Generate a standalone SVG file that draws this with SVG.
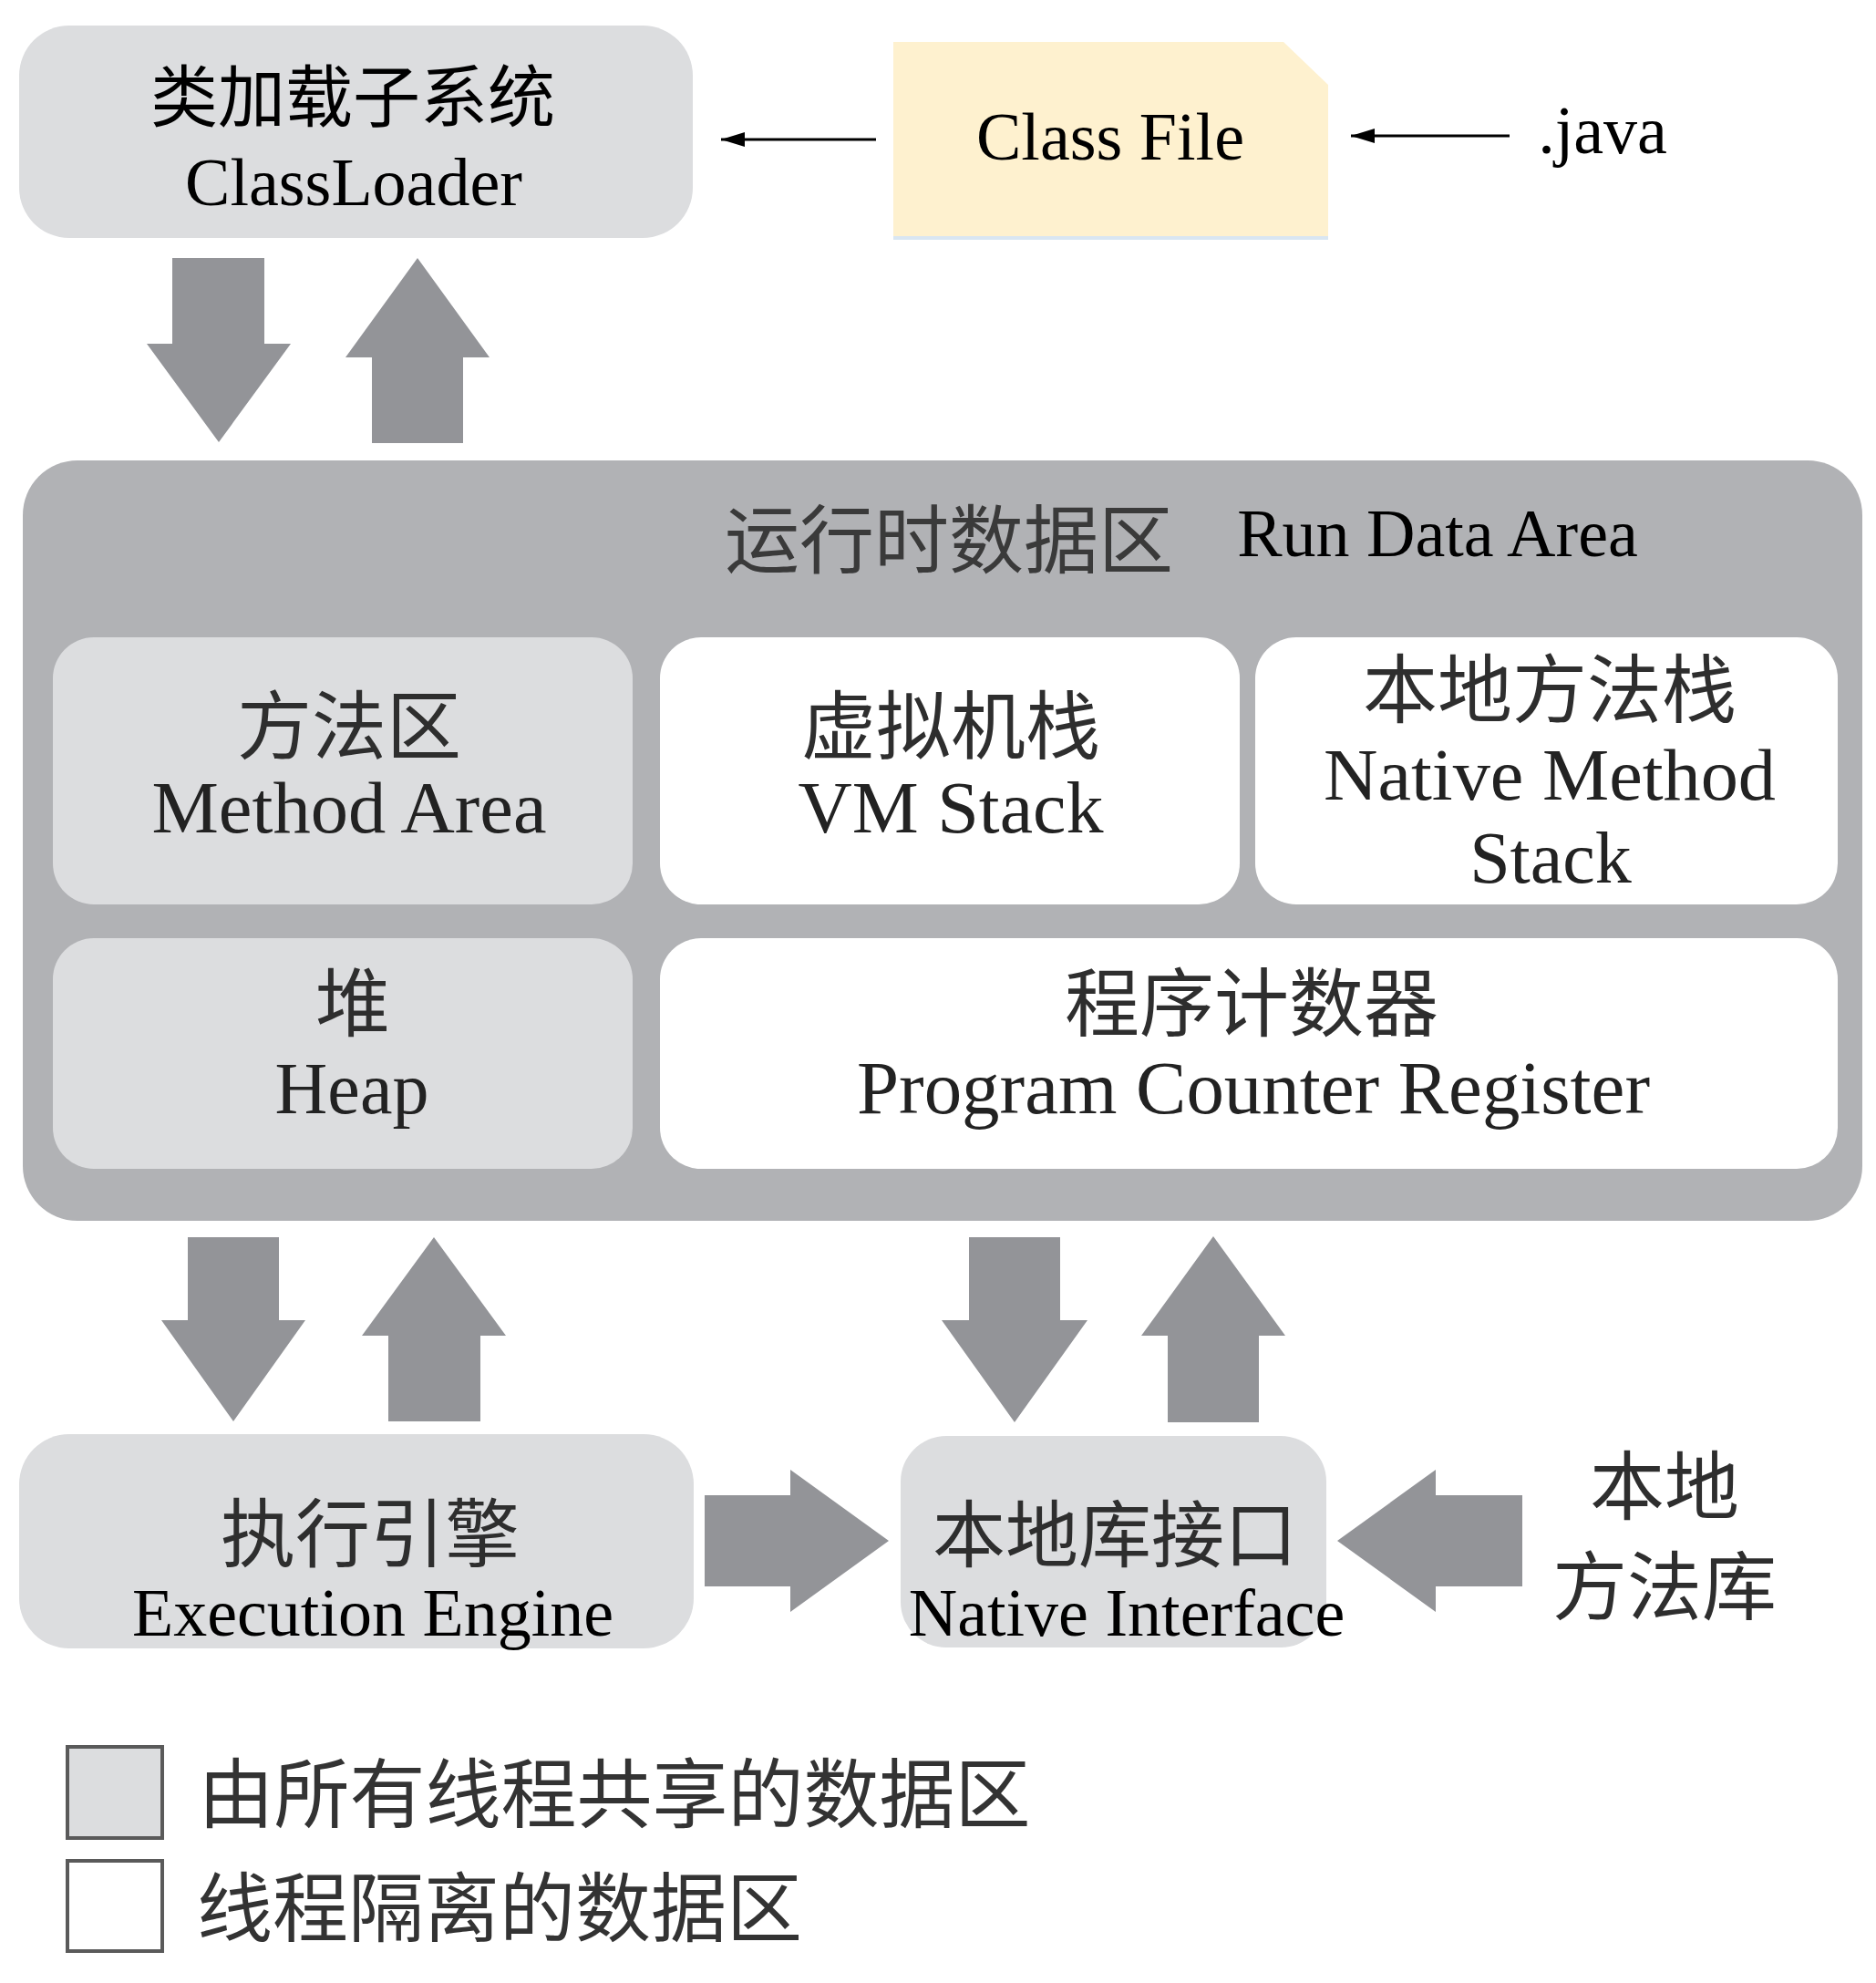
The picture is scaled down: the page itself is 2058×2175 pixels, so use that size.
<svg xmlns="http://www.w3.org/2000/svg" width="2058" height="2175" viewBox="0 0 2058 2175">
<style>
.shared{fill:#dcdddf}
.private{fill:#ffffff}
.area{fill:#b1b2b5}
.blk{fill:#939498}
.cn{font-family:"Noto Sans CJK SC","Noto Sans",sans-serif;fill:#2e2e2e;text-anchor:middle}
.en{font-family:"Liberation Serif","Times New Roman",serif;fill:#000;text-anchor:middle}
.en2{font-family:"Liberation Serif","Times New Roman",serif;fill:#222;text-anchor:middle}
.thin{stroke:#000;stroke-width:3;fill:none}
</style>
<defs>
<marker id="ah" viewBox="0 0 26 16" refX="26" refY="8" markerWidth="26" markerHeight="16" markerUnits="userSpaceOnUse" orient="auto">
<path d="M0,0 L26,8 L0,16 z" fill="#000"/>
</marker>
</defs>
<rect width="2058" height="2175" fill="#ffffff"/>

<g id="classloader">
<rect class="shared" x="21" y="28" width="739" height="233" rx="55"/>
<text class="cn" x="387" y="133" font-size="74" style="fill:#000">类加载子系统</text>
<text class="en" x="388" y="225" font-size="74">ClassLoader</text>
</g>

<g id="classfile">
<rect x="980" y="252" width="477" height="11" fill="#d9e6f2"/>
<path d="M980,46 L1408,46 L1457,93 L1457,259 L980,259 z" fill="#fef1cf"/>
<text class="en" x="1218" y="175" font-size="74">Class File</text>
</g>

<g id="java">
<text class="en" x="1758" y="168" font-size="74">.java</text>
</g>

<g id="runtime">
<rect class="area" x="25" y="505" width="2018" height="834" rx="60"/>
<text class="cn" x="1041" y="622" font-size="82" style="fill:#3a3a3a">运行时数据区</text>
<text class="en" x="1577" y="610" font-size="74">Run Data Area</text>
</g>

<g id="method-area">
<rect class="shared" x="58" y="699" width="636" height="293" rx="45"/>
<text class="cn" x="383" y="826" font-size="82">方法区</text>
<text class="en2" x="383" y="913" font-size="80" textLength="433" lengthAdjust="spacingAndGlyphs">Method Area</text>
</g>

<g id="vm-stack">
<rect class="private" x="724" y="699" width="636" height="293" rx="45"/>
<text class="cn" x="1043" y="826" font-size="82">虚拟机栈</text>
<text class="en2" x="1043" y="913" font-size="80" textLength="335" lengthAdjust="spacingAndGlyphs">VM Stack</text>
</g>

<g id="native-method-stack">
<rect class="private" x="1377" y="699" width="639" height="293" rx="45"/>
<text class="cn" x="1700" y="786" font-size="82">本地方法栈</text>
<text class="en2" x="1700" y="877" font-size="80" textLength="496" lengthAdjust="spacingAndGlyphs">Native Method</text>
<text class="en2" x="1701" y="968" font-size="80">Stack</text>
</g>

<g id="heap">
<rect class="shared" x="58" y="1029" width="636" height="253" rx="45"/>
<text class="cn" x="387" y="1130" font-size="82">堆</text>
<text class="en2" x="386" y="1221" font-size="80">Heap</text>
</g>

<g id="pc-register">
<rect class="private" x="724" y="1029" width="1292" height="253" rx="45"/>
<text class="cn" x="1373" y="1130" font-size="82">程序计数器</text>
<text class="en2" x="1375" y="1221" font-size="82" textLength="870" lengthAdjust="spacingAndGlyphs">Program Counter Register</text>
</g>

<g id="execution-engine">
<rect class="shared" x="21" y="1573" width="740" height="235" rx="55"/>
<text class="cn" x="406" y="1712" font-size="82">执行引擎</text>
<text class="en" x="409" y="1794" font-size="74">Execution Engine</text>
</g>

<g id="native-interface">
<rect class="shared" x="988" y="1575" width="467" height="232" rx="50"/>
<text class="cn" x="1223" y="1712" font-size="80">本地库接口</text>
<text class="en" x="1236" y="1794" font-size="74">Native Interface</text>
</g>

<g id="native-library">
<text class="cn" x="1826" y="1660" font-size="82">本地</text>
<text class="cn" x="1826" y="1770" font-size="82">方法库</text>
</g>

<g id="connectors">
<line class="thin" x1="961" y1="153" x2="791" y2="153" marker-end="url(#ah)"/>
<line class="thin" x1="1656" y1="149" x2="1482" y2="149" marker-end="url(#ah)"/>
<polygon class="blk" points="189,283 290,283 290,377 319,377 240,485 161,377 189,377"/>
<polygon class="blk" points="458,283 537,392 508,392 508,486 408,486 408,392 379,392"/>
<polygon class="blk" points="206,1357 306,1357 306,1448 335,1448 256,1559 177,1448 206,1448"/>
<polygon class="blk" points="476,1357 555,1465 527,1465 527,1559 426,1559 426,1465 397,1465"/>
<polygon class="blk" points="1063,1357 1163,1357 1163,1448 1193,1448 1113,1560 1033,1448 1063,1448"/>
<polygon class="blk" points="1331,1356 1410,1465 1381,1465 1381,1560 1281,1560 1281,1465 1252,1465"/>
<polygon class="blk" points="773,1640 867,1640 867,1612 975,1690 867,1768 867,1740 773,1740"/>
<polygon class="blk" points="1670,1640 1575,1640 1575,1612 1467,1690 1575,1768 1575,1740 1670,1740"/>
</g>

<g id="legend">
<rect x="74" y="1916" width="104" height="100" fill="#dcdddf" stroke="#5a5a5a" stroke-width="4"/>
<rect x="74" y="2041" width="104" height="99" fill="#ffffff" stroke="#5a5a5a" stroke-width="4"/>
<text class="cn" x="674" y="1998" font-size="83" style="fill:#333">由所有线程共享的数据区</text>
<text class="cn" x="548" y="2123" font-size="83" style="fill:#333">线程隔离的数据区</text>
</g>
</svg>
